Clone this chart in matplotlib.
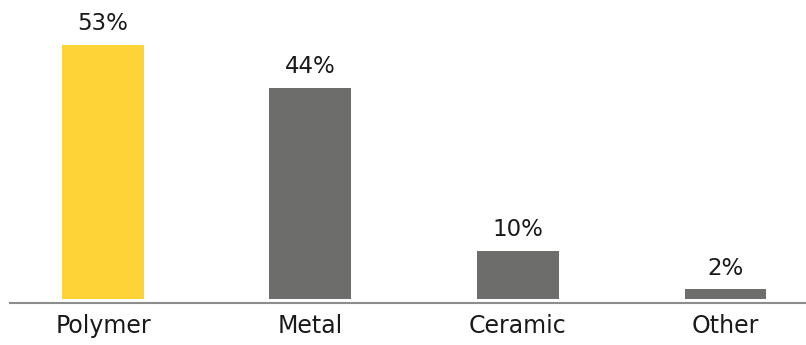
import matplotlib
matplotlib.use("Agg")
import matplotlib.pyplot as plt

categories = ["Polymer", "Metal", "Ceramic", "Other"]
shares = [53, 44, 10, 2]
value_labels = ["53%", "44%", "10%", "2%"]
bar_colors = ["#FDD335", "#6D6D6B", "#6D6D6B", "#6D6D6B"]

plt.rcParams["font.family"] = ["DejaVu Sans"]

fig = plt.figure(figsize=(8.06, 3.45), dpi=100)
ax = fig.add_axes([10 / 806, 1 - 303 / 345, 796 / 806, 303 / 345])

x = list(range(len(categories)))
ax.bar(x, shares, width=0.395, color=bar_colors, zorder=2)

for xi, v, lab in zip(x, shares, value_labels):
    ax.annotate(lab, (xi, v), xytext=(0, 7), textcoords="offset points",
                ha="center", va="bottom", fontsize=16.5, color="#1a1a1a")

ax.set_xlim(-0.448, 3.388)
ax.set_ylim(-0.83, 62.3)
ax.set_xticks(x)
ax.set_xticklabels(categories, fontsize=17, color="#1a1a1a")
ax.tick_params(axis="x", length=0, pad=8)
ax.set_yticks([])
for side in ("top", "right", "left"):
    ax.spines[side].set_visible(False)
ax.spines["bottom"].set_color("#8c8c8c")
ax.spines["bottom"].set_linewidth(1.5)

fig.savefig("out.png", dpi=100)
